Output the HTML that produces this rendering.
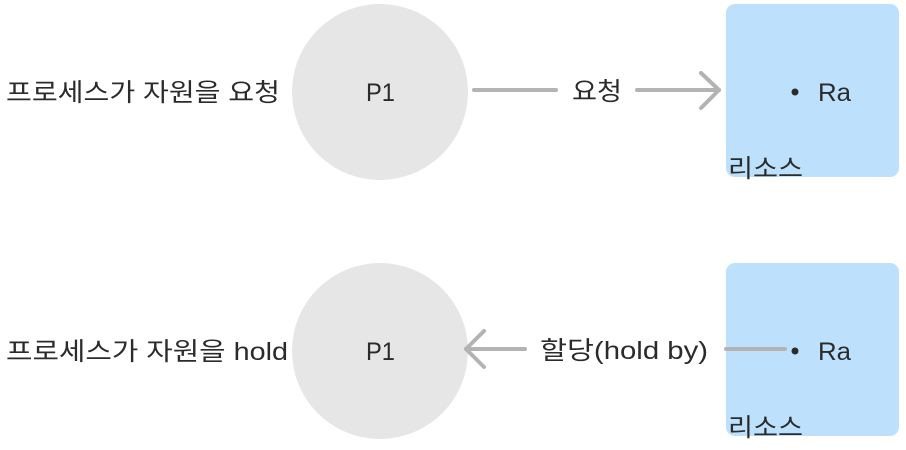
<!DOCTYPE html>
<html><head><meta charset="utf-8"><style>
html,body{margin:0;padding:0;background:#fff;}
svg{display:block}
text{font-family:"Liberation Sans","Noto Sans CJK KR",sans-serif;fill:#2b2b2b;font-size:25px;}
</style></head><body>
<svg width="906" height="450" viewBox="0 0 906 450">
<!-- Row 1 -->
<text x="6" y="101" textLength="274" lengthAdjust="spacingAndGlyphs">프로세스가 자원을 요청</text>
<circle cx="380" cy="92" r="88" fill="#e6e6e6"/>
<text x="366" y="101" textLength="29" lengthAdjust="spacingAndGlyphs">P1</text>
<rect x="726" y="4" width="173" height="173" rx="9" fill="#bde1fc"/>
<line x1="474" y1="90" x2="556" y2="90" stroke="#b3b3b3" stroke-width="4" stroke-linecap="round"/>
<text x="572" y="100" textLength="50" lengthAdjust="spacingAndGlyphs">요청</text>
<line x1="637" y1="90" x2="719" y2="90" stroke="#b3b3b3" stroke-width="4" stroke-linecap="round"/>
<polyline points="701,73 719,90 701,108" fill="none" stroke="#b3b3b3" stroke-width="4" stroke-linecap="round" stroke-linejoin="round"/>
<circle cx="795" cy="92" r="3.5" fill="#2b2b2b"/>
<text x="818" y="101" textLength="33" lengthAdjust="spacingAndGlyphs">Ra</text>
<text x="728" y="177" textLength="75" lengthAdjust="spacingAndGlyphs">리소스</text>
<!-- Row 2 -->
<text x="6" y="360" textLength="282" lengthAdjust="spacingAndGlyphs">프로세스가 자원을 hold</text>
<circle cx="380" cy="351" r="88" fill="#e6e6e6"/>
<text x="366" y="360" textLength="29" lengthAdjust="spacingAndGlyphs">P1</text>
<rect x="726" y="263" width="173" height="173" rx="9" fill="#bde1fc"/>
<line x1="466" y1="349" x2="525" y2="349" stroke="#b3b3b3" stroke-width="4" stroke-linecap="round"/>
<polyline points="484,331 466,349 484,367" fill="none" stroke="#b3b3b3" stroke-width="4" stroke-linecap="round" stroke-linejoin="round"/>
<text x="540" y="359" textLength="168" lengthAdjust="spacingAndGlyphs">할당(hold by)</text>
<line x1="726" y1="349" x2="785" y2="349" stroke="#b3b3b3" stroke-width="4" stroke-linecap="round"/>
<circle cx="795" cy="351" r="3.5" fill="#2b2b2b"/>
<text x="818" y="360" textLength="33" lengthAdjust="spacingAndGlyphs">Ra</text>
<text x="728" y="436" textLength="75" lengthAdjust="spacingAndGlyphs">리소스</text>
</svg>
</body></html>
